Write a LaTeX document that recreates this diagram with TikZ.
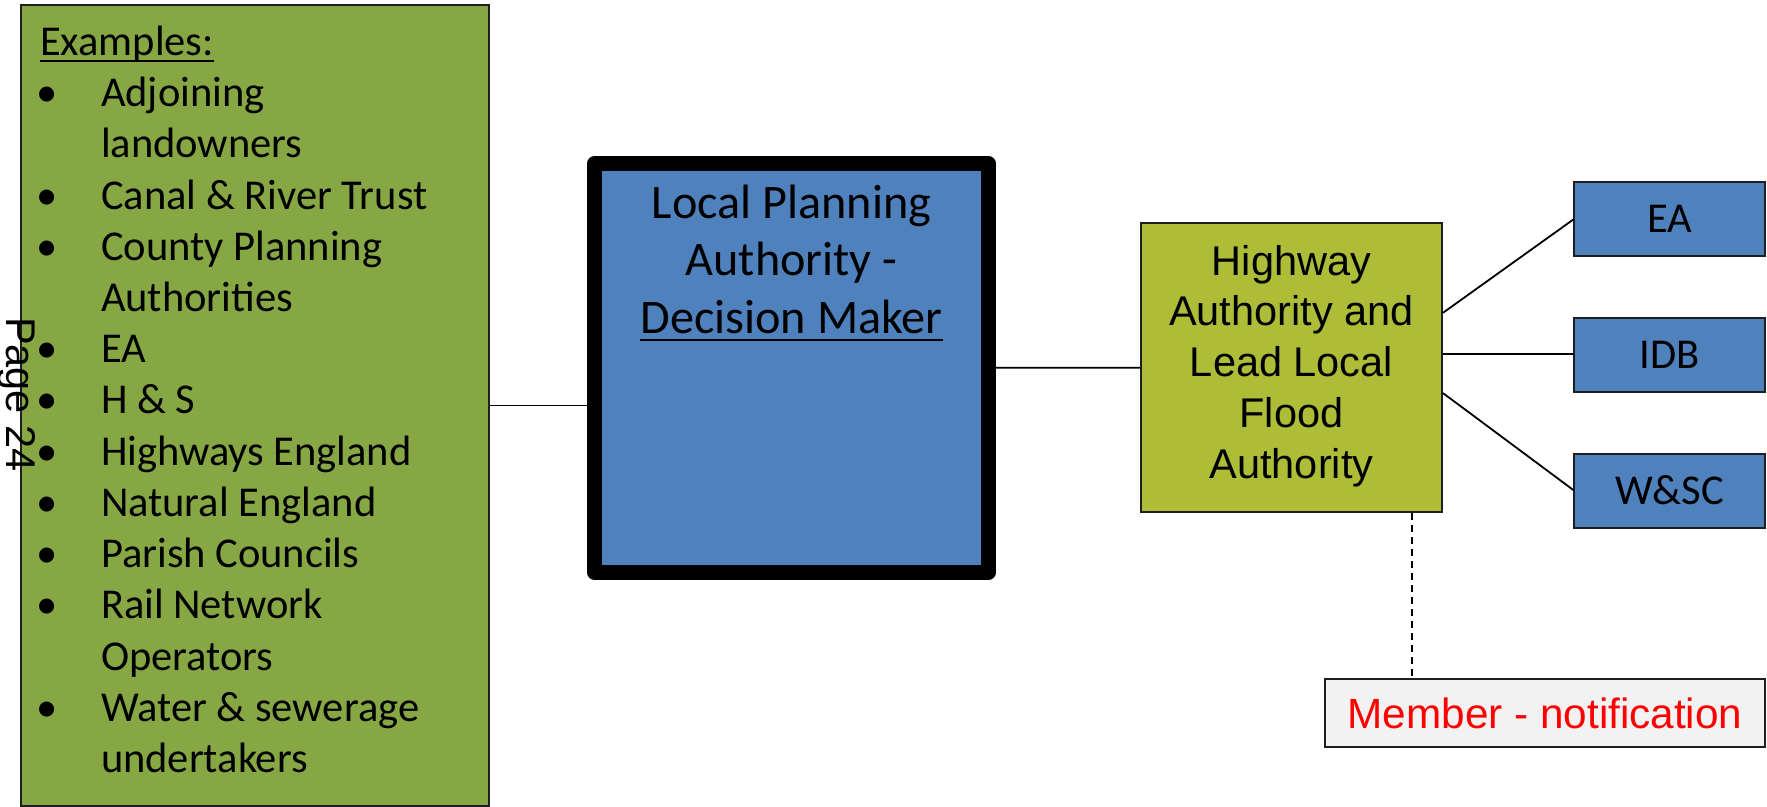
\documentclass[tikz,border=0pt]{standalone}
\usepackage{fontspec}
\setmainfont{Carlito}
\newfontfamily\arialf{Liberation Sans}
\usetikzlibrary{calc}
\definecolor{leftgreen}{RGB}{134,167,68}
\definecolor{hagreen}{RGB}{173,189,56}
\definecolor{boxblue}{RGB}{79,129,189}
\definecolor{memgray}{RGB}{242,242,242}
\definecolor{darkborder}{RGB}{30,30,30}
\begin{document}
\begin{tikzpicture}[x=1pt,y=-1pt,
  cal/.style={font=\fontsize{42.5}{51.2}\selectfont, inner sep=0pt, outer sep=0pt},
  calbig/.style={font=\fontsize{48.2}{57.5}\selectfont, inner sep=0pt, outer sep=0pt},
  ari/.style={font=\arialf\fontsize{41.5}{50}\selectfont, inner sep=0pt, outer sep=0pt},
  listtext/.style={cal, anchor=base west},
  bulletmark/.style={cal, anchor=base},
  centerline/.style={anchor=base},
  plainbox/.style={draw=darkborder, line width=2pt, rectangle, inner sep=0pt},
  smallblue/.style={plainbox, fill=boxblue, minimum width=191pt, minimum height=74pt, cal},
  conn/.style={line width=1.8pt, draw=black},
  dashconn/.style={line width=2.2pt, draw=black, dash pattern=on 7pt off 5pt}
]
\useasboundingbox (0,0) rectangle (1767,806);
\clip (0,0) rectangle (1767,806);
\fill[white] (0,0) rectangle (1767,806);

% boxes
\node[plainbox, fill=leftgreen, line width=2.5pt, minimum width=468pt, minimum height=801pt] (left) at (255,405.5) {};
\node[rectangle, draw=black, fill=boxblue, line width=15pt, line join=round, minimum width=393.4pt, minimum height=409pt] (lpa) at (791.5,368) {};
\node[plainbox, fill=hagreen, minimum width=301pt, minimum height=289pt] (ha) at (1291.5,367.5) {};
\node[smallblue] (ea) at (1669.5,219) {EA};
\node[smallblue] (idb) at (1669.5,354.5) {IDB};
\node[smallblue] (wsc) at (1669.5,490.5) {W\&SC};
\node[plainbox, fill=memgray, minimum width=440pt, minimum height=68pt, ari, font=\arialf\fontsize{42.3}{50}\selectfont, text=red] (mem) at (1545,713) {Member - notification};

% left list
\node[listtext] (ex) at (40,55) {Examples:};
\draw[line width=2pt] ([yshift=-6pt]ex.base west) -- ([yshift=-6pt]ex.base east);
\node[bulletmark] (b1) at (47.5,106) {•};
\node[listtext] (t1) at (101,106) {Adjoining};
\node[listtext] (t1b) at (101,157) {landowners};
\node[bulletmark] (b2) at (47.5,209) {•};
\node[listtext] (t2) at (101,209) {Canal \& River Trust};
\node[bulletmark] (b3) at (47.5,260) {•};
\node[listtext] (t3) at (101,260) {County Planning};
\node[listtext] (t3b) at (101,311) {Authorities};
\node[bulletmark] (b4) at (47.5,362) {•};
\node[listtext] (t4) at (101,362) {EA};
\node[bulletmark] (b5) at (47.5,413) {•};
\node[listtext] (t5) at (101,413) {H \& S};
\node[bulletmark] (b6) at (47.5,465) {•};
\node[listtext] (t6) at (101,465) {Highways England};
\node[bulletmark] (b7) at (47.5,516) {•};
\node[listtext] (t7) at (101,516) {Natural England};
\node[bulletmark] (b8) at (47.5,567) {•};
\node[listtext] (t8) at (101,567) {Parish Councils};
\node[bulletmark] (b9) at (47.5,618) {•};
\node[listtext] (t9) at (101,618) {Rail Network};
\node[listtext] (t9b) at (101,670) {Operators};
\node[bulletmark] (b10) at (47.5,721) {•};
\node[listtext] (t10) at (101,721) {Water \& sewerage};
\node[listtext] (t10b) at (101,772) {undertakers};

% LPA text
\node[calbig, centerline] (l1) at (791.5,218) {Local Planning};
\node[calbig, centerline] (l2) at (791.5,275.5) {Authority -};
\node[calbig, centerline] (l3) at (791.5,333) {Decision Maker};
\draw[line width=2.5pt] ([yshift=-7pt]l3.base west) -- ([yshift=-7pt]l3.base east);

% HA text
\node[ari, centerline] (h1) at (1291.5,275) {Highway};
\node[ari, centerline] (h2) at (1291.5,325.8) {Authority and};
\node[ari, centerline] (h3) at (1291.5,376.6) {Lead Local};
\node[ari, centerline] (h4) at (1291.5,427.4) {Flood};
\node[ari, centerline] (h5) at (1291.5,478.2) {Authority};

% connectors
\draw[conn] (left.east) -- (left.east -| lpa.west);
\draw[conn] (lpa) -- (ha);
\coordinate (ha1) at ($(ha.north east)!0.312!(ha.south east)$);
\coordinate (ha2) at ($(ha.north east)!0.454!(ha.south east)$);
\coordinate (ha3) at ($(ha.north east)!0.588!(ha.south east)$);
\draw[conn] (ha1) -- (ea.west);
\draw[conn] (ha2) -- (ha2 -| idb.west);
\draw[conn] (ha3) -- (wsc.west);
\coordinate (hadash) at (1412,0);
\draw[dashconn] (ha.south -| hadash) -- (mem.north -| hadash);

% page label
\node[ari, rotate=-90, anchor=base west] (pg) at (6,317) {Page 24};
\end{tikzpicture}
\end{document}
